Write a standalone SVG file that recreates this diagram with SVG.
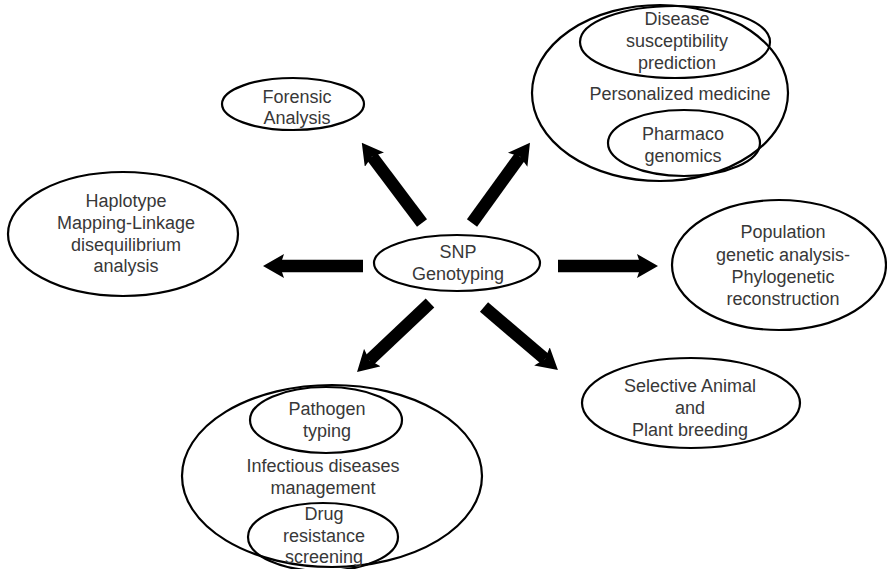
<svg xmlns="http://www.w3.org/2000/svg" width="887" height="569" viewBox="0 0 887 569">
  <style>
    .bubble { fill: none; stroke: #000; stroke-width: 2.2; }
    .label { font-family: "Liberation Sans", Arial, sans-serif; font-size: 18px; fill: #383838; text-anchor: middle; }
    .link { stroke: #000; stroke-width: 12.5; fill: none; marker-end: url(#head); }
  </style>
  <defs>
    <!-- barbed arrowhead, slightly notched at the back -->
    <marker id="head" viewBox="0 -12 21 24" refX="4" refY="0" markerWidth="21" markerHeight="24" markerUnits="userSpaceOnUse" orient="auto">
      <path d="M0,-12 L21,0 L0,12 L4,0 Z" fill="#000"/>
    </marker>
  </defs>
  <rect width="887" height="569" fill="#fff"/>

  <!-- connectors radiating from the centre -->
  <g id="connectors">
    <line class="link" x1="363" y1="266" x2="280" y2="266"/>
    <line class="link" x1="558" y1="266" x2="641" y2="266"/>
    <line class="link" x1="422" y1="223" x2="372" y2="156.4"/>
    <line class="link" x1="472" y1="223" x2="520" y2="156.6"/>
    <line class="link" x1="430" y1="303" x2="369.4" y2="360.3"/>
    <line class="link" x1="484" y1="307" x2="545" y2="359"/>
  </g>

  <g id="snp">
    <ellipse class="bubble" cx="457" cy="263" rx="83" ry="28"/>
    <text class="label" x="458" y="258">SNP</text>
    <text class="label" x="458" y="280">Genotyping</text>
  </g>

  <g id="forensic">
    <ellipse class="bubble" cx="293" cy="104" rx="71" ry="26"/>
    <text class="label" x="297" y="103">Forensic</text>
    <text class="label" x="297" y="124">Analysis</text>
  </g>

  <g id="haplotype">
    <ellipse class="bubble" cx="123" cy="234" rx="115" ry="62"/>
    <text class="label" x="126" y="207">Haplotype</text>
    <text class="label" x="126" y="229">Mapping-Linkage</text>
    <text class="label" x="126" y="251">disequilibrium</text>
    <text class="label" x="126" y="272">analysis</text>
  </g>

  <g id="population">
    <ellipse class="bubble" cx="779" cy="265" rx="107" ry="65"/>
    <text class="label" x="783" y="238">Population</text>
    <text class="label" x="783" y="261">genetic analysis-</text>
    <text class="label" x="783" y="283">Phylogenetic</text>
    <text class="label" x="783" y="305">reconstruction</text>
  </g>

  <g id="breeding">
    <ellipse class="bubble" cx="691" cy="403" rx="109" ry="45"/>
    <text class="label" x="690" y="392">Selective Animal</text>
    <text class="label" x="690" y="414">and</text>
    <text class="label" x="690" y="436">Plant breeding</text>
  </g>

  <g id="personalized">
    <ellipse class="bubble" cx="660" cy="93" rx="128" ry="88"/>
    <text class="label" x="680" y="100">Personalized medicine</text>
    <g id="susceptibility">
      <ellipse class="bubble" cx="675" cy="42" rx="95" ry="36"/>
      <text class="label" x="677" y="25">Disease</text>
      <text class="label" x="677" y="47">susceptibility</text>
      <text class="label" x="677" y="69">prediction</text>
    </g>
    <g id="pharmaco">
      <ellipse class="bubble" cx="684" cy="143" rx="76" ry="33"/>
      <text class="label" x="683" y="140">Pharmaco</text>
      <text class="label" x="683" y="162">genomics</text>
    </g>
  </g>

  <g id="infectious">
    <ellipse class="bubble" cx="332" cy="476" rx="150" ry="91"/>
    <text class="label" x="323" y="472">Infectious diseases</text>
    <text class="label" x="323" y="494">management</text>
    <g id="pathogen">
      <ellipse class="bubble" cx="326" cy="420" rx="76" ry="33"/>
      <text class="label" x="327" y="415">Pathogen</text>
      <text class="label" x="327" y="437">typing</text>
    </g>
    <g id="resistance">
      <ellipse class="bubble" cx="323" cy="537" rx="75" ry="34"/>
      <text class="label" x="324" y="520">Drug</text>
      <text class="label" x="324" y="542">resistance</text>
      <text class="label" x="324" y="563">screening</text>
    </g>
  </g>
</svg>
